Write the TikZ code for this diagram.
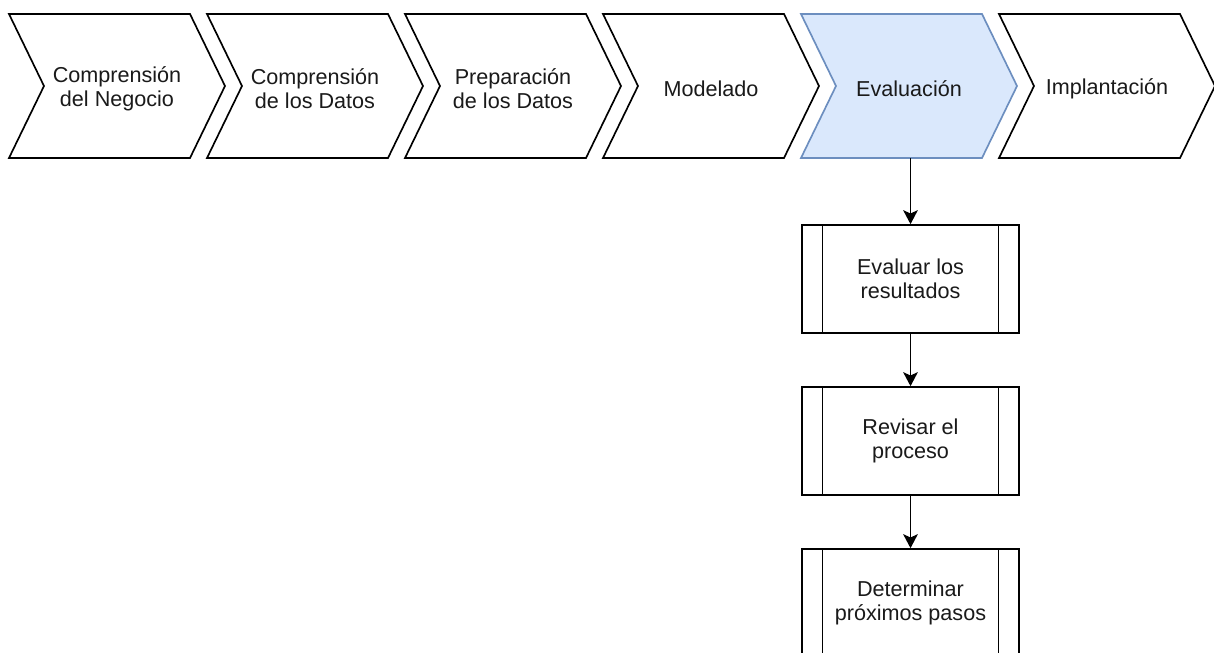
\documentclass[tikz,border=0pt]{standalone}
\usepackage{fontspec}
\setmainfont{Liberation Sans}
\usetikzlibrary{arrows.meta}
\definecolor{evfill}{HTML}{DAE8FC}
\definecolor{evdraw}{HTML}{6C8EBF}
\definecolor{txt}{HTML}{1A1A1A}
\begin{document}
\begin{tikzpicture}[x=0.75pt,y=-0.75pt,
  lbl/.style={rectangle,inner sep=0pt,minimum width=162pt,minimum height=108pt,align=center,
    font=\fontsize{16.2pt}{18pt}\selectfont,text=txt},
  chev/.style={draw=black,fill=white,line width=1.25pt,line join=miter},
  evchev/.style={draw=evdraw,fill=evfill,line width=1.25pt,line join=miter},
  procbox/.style={rectangle,draw=black,fill=white,line width=1.25pt,minimum width=162.75pt,minimum height=81pt,
    align=center,font=\fontsize{16.2pt}{18pt}\selectfont,text=txt,inner sep=0pt},
  conn/.style={line width=1.25pt,-{Stealth[length=10.5pt,width=11pt,inset=2.5pt]}}]
\clip (0,0) rectangle (1214,653);
\fill[white] (0,0) rectangle (1214,653);
% chevron shapes
\foreach \cx/\st in {117/chev,315/chev,513/chev,711/chev,909/evchev,1107/chev}{
  \begin{scope}[shift={(\cx,86)}]
    \path[\st] (-108,-72) -- (73,-72) -- (108,0) -- (73,72) -- (-108,72) -- (-73,0) -- cycle;
  \end{scope}
}
% chevron labels
\node[lbl] (c1) at (117,88.5) {Comprensión\\del Negocio};
\node[lbl] (c2) at (315,88.5) {Comprensión\\de los Datos};
\node[lbl] (c3) at (513,88.5) {Preparación\\de los Datos};
\node[lbl] (c4) at (711,88.5) {Modelado};
\node[lbl] (c5) at (909,88.5) {Evaluación};
\node[lbl] (c6) at (1107,88.5) {Implantación};
\coordinate (c5b) at (910.5,158);
% process boxes
\node[procbox] (b1) at (910.5,279) {Evaluar los\\resultados};
\node[procbox] (b2) at (910.5,441) {Revisar el\\proceso};
\node[procbox] (b3) at (910.5,603) {Determinar\\próximos pasos};
\foreach \b in {b1,b2,b3}{
  \draw[line width=1.25pt] ([xshift=16pt]\b.north west) -- ([xshift=16pt]\b.south west);
  \draw[line width=1.25pt] ([xshift=-16pt]\b.north east) -- ([xshift=-16pt]\b.south east);
}
% connectors
\draw[conn] (c5b) -- (b1.north);
\draw[conn] (b1) -- (b2);
\draw[conn] (b2) -- (b3);
\end{tikzpicture}
\end{document}
